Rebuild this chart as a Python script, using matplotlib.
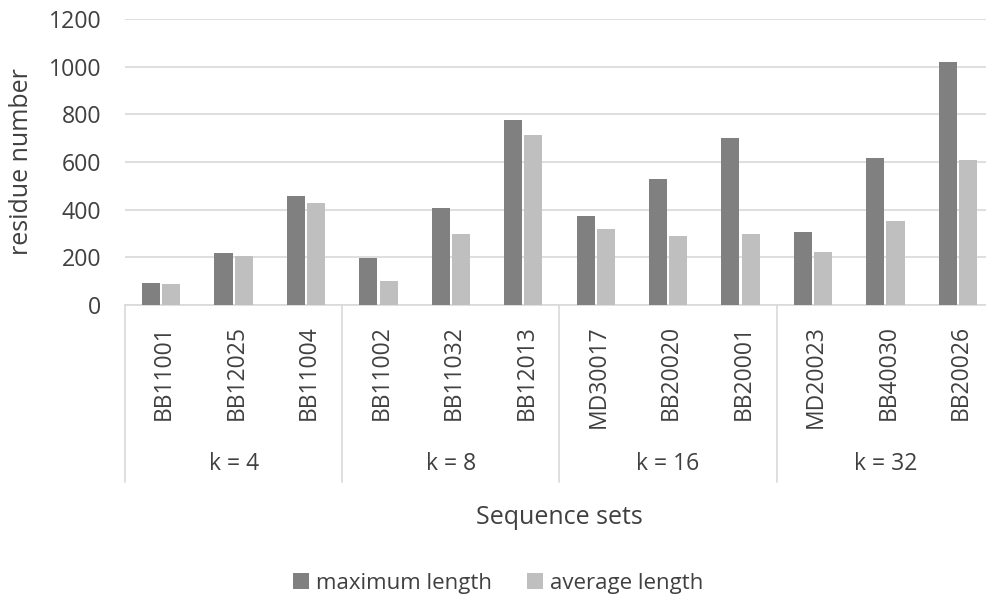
import matplotlib
matplotlib.use("Agg")
import matplotlib.pyplot as plt
from matplotlib.transforms import blended_transform_factory, ScaledTranslation
import numpy as np

plt.rcParams['font.family'] = ['Open Sans', 'DejaVu Sans']

sequence_sets = ["BB11001", "BB12025", "BB11004",
                 "BB11002", "BB11032", "BB12013",
                 "MD30017", "BB20020", "BB20001",
                 "MD20023", "BB40030", "BB20026"]
group_labels = ["k = 4", "k = 8", "k = 16", "k = 32"]
group_size = 3
max_length = [92, 217, 459, 199, 406, 775, 372, 530, 701, 305, 617, 1021]
avg_length = [88, 204, 427, 101, 297, 712, 318, 288, 297, 221, 351, 608]
yticks = [0, 200, 400, 600, 800, 1000, 1200]

W, H = 987, 599
fig = plt.figure(figsize=(W / 100, H / 100), dpi=100)
left, right, top, bottom = 125, 994, 19, 305
ax = fig.add_axes([left / W, 1 - bottom / H, (right - left) / W, (bottom - top) / H])

text_col = "#404040"
grid_col = "#d9d9d9"
c_max = "#808080"
c_avg = "#bfbfbf"

x = np.arange(len(sequence_sets))
bw = 0.25
ax.bar(x - 0.14, max_length, bw, color=c_max, label="maximum length", zorder=3)
ax.bar(x + 0.14, avg_length, bw, color=c_avg, label="average length", zorder=3)

ax.set_xlim(-0.5, len(sequence_sets) - 0.5)
ax.set_ylim(0, 1200)
ax.set_yticks(yticks)
ax.set_yticklabels([str(v) for v in yticks], fontsize=16.7, color=text_col)
ax.tick_params(axis='y', length=0, pad=17)
ax.set_xticks([])
ax.grid(axis='y', color=grid_col, linewidth=1.2, zorder=0)
for s in ["top", "right", "left"]:
    ax.spines[s].set_visible(False)
ax.spines["bottom"].set_color(grid_col)
ax.spines["bottom"].set_linewidth(1.2)

def fy(py):
    return 1 - py / H

fig.text(22 / W, fy((top + bottom) / 2), "residue number", rotation=90,
         ha='center', va='center', fontsize=18, color=text_col)

# category and group labels below the axis
tr = blended_transform_factory(ax.transData, fig.transFigure)
tr_cat = tr + ScaledTranslation(3 / 100, 0, fig.dpi_scale_trans)

for i, name in enumerate(sequence_sets):
    ax.text(i, fy(325), name, transform=tr_cat, rotation=90, ha='center', va='top',
            fontsize=16.5, color=text_col, clip_on=False)

n_groups = len(group_labels)
for g in range(n_groups + 1):
    xb = g * group_size - 0.5
    ax.plot([xb, xb], [fy(bottom), fy(482)], transform=tr, color=grid_col,
            linewidth=1.2, clip_on=False)
for g, lab in enumerate(group_labels):
    xc = g * group_size + (group_size - 1) / 2
    ax.text(xc, fy(464), lab, transform=tr, ha='center', va='center',
            fontsize=16.5, color=text_col, clip_on=False)

fig.text(559 / W, fy(517), "Sequence sets", ha='center', va='center',
         fontsize=18, color=text_col)

leg = fig.legend(loc='center', bbox_to_anchor=(498 / W, fy(583)), ncol=2,
                 frameon=False, fontsize=16, handlelength=0.72, handleheight=0.72,
                 handletextpad=0.3, columnspacing=1.6)
for t in leg.get_texts():
    t.set_color(text_col)

fig.savefig("out.png", dpi=100)
